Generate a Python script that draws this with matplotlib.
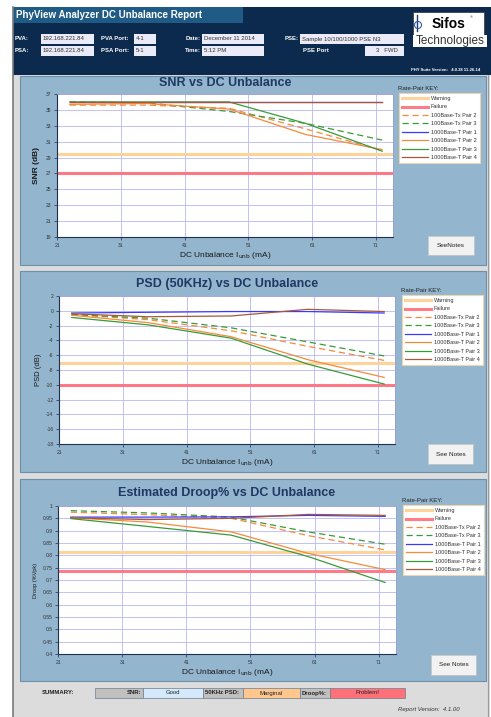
import matplotlib
matplotlib.use("Agg")
import matplotlib.pyplot as plt
from matplotlib.patches import Rectangle, Circle

plt.rcParams['font.family'] = ['Liberation Sans', 'DejaVu Sans']

W, H = 491, 717

# ---------------- data ----------------
x_unb = [23, 35, 48, 60, 72]
xticks = [21, 31, 41, 51, 61, 71]

series_labels = ["100Base-Tx Pair 2", "100Base-Tx Pair 3", "1000Base-T Pair 1",
                 "1000Base-T Pair 2", "1000Base-T Pair 3", "1000Base-T Pair 4"]

snr_tx2 = [35.6, 35.6, 35.2, 32.6, 29.9]
snr_tx3 = [36.0, 35.9, 34.8, 33.3, 31.2]
snr_t1 = [36.0, 36.0, 36.0, 36.0, 36.0]
snr_t2 = [35.7, 35.8, 35.1, 31.9, 30.0]
snr_t3 = [36.0, 36.0, 36.0, 33.3, 29.8]
snr_t4 = [36.0, 36.0, 36.0, 36.0, 36.0]
snr_warn, snr_fail = 29.5, 27.0
snr_yticks = [19, 21, 23, 25, 27, 29, 31, 33, 35, 37]

psd_tx2 = [-0.5, -1.2, -2.7, -4.8, -6.7]
psd_tx3 = [-0.5, -1.0, -2.3, -4.2, -6.1]
psd_t1 = [-0.3, -0.2, -0.1, -0.1, -0.3]
psd_t2 = [-0.6, -1.6, -3.5, -6.6, -9.0]
psd_t3 = [-0.9, -1.9, -3.7, -7.2, -9.9]
psd_t4 = [-0.4, -0.8, -0.7, 0.2, -0.1]
psd_warn, psd_fail = -7.0, -10.0
psd_yticks = [-18, -16, -14, -12, -10, -8, -6, -4, -2, 0, 2]

droop_tx2 = [0.975, 0.965, 0.950, 0.880, 0.822]
droop_tx3 = [0.981, 0.972, 0.955, 0.895, 0.845]
droop_t1 = [0.955, 0.955, 0.956, 0.962, 0.958]
droop_t2 = [0.952, 0.935, 0.895, 0.808, 0.742]
droop_t3 = [0.949, 0.917, 0.882, 0.795, 0.690]
droop_t4 = [0.952, 0.945, 0.950, 0.966, 0.962]
droop_warn, droop_fail = 0.813, 0.735
droop_yticks = [0.4, 0.45, 0.5, 0.55, 0.6, 0.65, 0.7, 0.75, 0.8, 0.85, 0.9, 0.95, 1.0]

summary_labels = ["SNR:", "50KHz PSD:", "Droop%:"]
summary_values = ["Good", "Marginal", "Problem!"]

# ---------------- styles ----------------
C_ORANGE = '#f58a3a'
C_GREEN = '#3a9a3a'
C_BLUE = '#3a3aff'
C_BROWN = '#a8583a'
C_WARN = '#fdd39a'
C_FAIL = '#ff6e7a'
series_styles = [(C_ORANGE, '--'), (C_GREEN, '--'), (C_BLUE, '-'),
                 (C_ORANGE, '-'), (C_GREEN, '-'), (C_BROWN, '-')]

NAVY = '#0c2a4e'
PANEL = '#93b5cd'
TITLE_C = '#1f3864'

fig = plt.figure(figsize=(W / 100, H / 100), dpi=100)
fig.patch.set_facecolor('white')

bg = fig.add_axes([0, 0, 1, 1], zorder=-10)
bg.set_xlim(0, W)
bg.set_ylim(H, 0)
bg.axis('off')


def rect(x0, y0, x1, y1, fc, ec='none', lw=0.6, z=1):
    bg.add_patch(Rectangle((x0, y0), x1 - x0, y1 - y0, facecolor=fc,
                           edgecolor=ec, linewidth=lw, zorder=z))


def txt(x, y, s, size=4.5, color='black', ha='left', va='center', **kw):
    bg.text(x, y, s, fontsize=size, color=color, ha=ha, va=va, zorder=5, **kw)


# outer report background
rect(13, 7, 490, 717, '#dcdcdc')
bg.plot([13, 13], [7, 717], color='#7a7a7a', lw=1.2, zorder=2)
bg.plot([488.5, 488.5], [75, 717], color='#9a9a9a', lw=0.8, zorder=2)

# header
rect(13, 7, 491, 75, NAVY)
rect(13, 7, 243, 23, '#1f5b85')
txt(16, 15, "PhyView Analyzer DC Unbalance Report", size=7, color='white',
    weight='bold')

box_fc = '#eaeaf8'
lab_kw = dict(size=4.3, color='white', weight='bold')
val_kw = dict(size=4.3, color='#333333')
# row 1
txt(15, 39, "PVA:", **lab_kw)
rect(41, 34, 94, 44, box_fc); txt(43, 39, "192.168.221.84", **val_kw)
txt(101, 39, "PVA Port:", **lab_kw)
rect(134, 34, 156, 44, box_fc); txt(136, 39, "4-1", **val_kw)
txt(201, 39, "Date:", ha='right', **lab_kw)
rect(202, 34, 264, 44, box_fc); txt(204, 39, "December 11 2014", **val_kw)
txt(299, 39, "PSE:", ha='right', **lab_kw)
rect(300, 34, 404, 44, box_fc); txt(302, 39, "Sample 10/100/1000 PSE N3", **val_kw)
# row 2
txt(15, 51, "PSA:", **lab_kw)
rect(41, 46, 94, 56, box_fc); txt(43, 51, "192.168.221.84", **val_kw)
txt(101, 51, "PSA Port:", **lab_kw)
rect(134, 46, 156, 56, box_fc); txt(136, 51, "5-1", **val_kw)
txt(201, 51, "Time:", ha='right', **lab_kw)
rect(202, 46, 264, 56, box_fc); txt(204, 51, "5:12 PM", **val_kw)
txt(303, 51, "PSE Port", **lab_kw)
rect(365, 46, 404, 56, box_fc); txt(376, 51, "3   FWD", **val_kw)
txt(480, 70, "PHY Suite Version:   4.0.38 11-26-14", size=3, color='white',
    ha='right', weight='bold')

# logo
rect(413, 12, 484, 35, 'white', ec='#333333', lw=0.5)
rect(413, 35, 487, 47, 'white')
bg.plot([417.5, 417.5], [15, 31], color='#1f3864', lw=1.0, zorder=6)
bg.add_patch(Circle((418, 25), 3.5, facecolor='none',
                    edgecolor='#2f5fb0', lw=0.8, zorder=6))
txt(449, 24, "Sifos", size=10, color='black', ha='center', weight='bold')
txt(471, 17, "®", size=3, color='#444444', ha='center')
txt(450, 41, "Technologies", size=8.5, color='#333333', ha='center')

# panels
panels = [(76, 265), (271, 472), (479, 681)]
for (y0, y1) in panels:
    rect(20, y0, 486, y1, PANEL, ec='#6d90aa', lw=0.8)


def px_axes(x0, y0, x1, y1):
    return fig.add_axes([x0 / W, 1 - y1 / H, (x1 - x0) / W, (y1 - y0) / H])


def make_chart(box, title, title_y, ylabel, ylabel_kw, yticks, ytickfmt,
               warn, fail, data, legend_xy, button, btn_text):
    ax = px_axes(*box)
    ax.set_facecolor('white')
    ax.axhline(warn, color=C_WARN, lw=2.2, zorder=2, label="Warning")
    ax.axhline(fail, color=C_FAIL, lw=2.2, alpha=0.9, zorder=2, label="Failure")
    handles = ax.get_lines()[:]
    for vals, lab, (c, ls) in zip(data, series_labels, series_styles):
        ln, = ax.plot(x_unb, vals, color=c, ls=ls, lw=0.9, zorder=3, label=lab,
                      dashes=(5, 3) if ls == '--' else (None, None))
        handles.append(ln)
    ax.set_xlim(21, 73.7)
    ax.set_ylim(yticks[0], yticks[-1])
    ax.set_xticks(xticks)
    ax.set_yticks(yticks)
    ax.set_yticklabels([ytickfmt(v) for v in yticks])
    ax.grid(True, color='#b8b8f4', lw=0.6)
    ax.set_axisbelow(True)
    ax.tick_params(labelsize=3.6, labelcolor='#333333', length=2, width=0.5,
                   color='#1f3050', pad=2)
    for s in ['left', 'bottom']:
        ax.spines[s].set_color('#1f3050')
        ax.spines[s].set_linewidth(0.8)
    for s in ['top', 'right']:
        ax.spines[s].set_color('#9a9ad8')
        ax.spines[s].set_linewidth(0.5)
    ax.set_xlabel(r"DC Unbalance I$_{\mathrm{unb}}$ (mA)", fontsize=6,
                  color='#1a1a1a', labelpad=1.5)
    ax.set_ylabel(ylabel, **ylabel_kw)
    cx = (box[0] + box[2]) / 2
    txt(cx, title_y, title, size=9, color=TITLE_C, ha='center', weight='bold')
    # legend
    lx, ly = legend_xy
    txt(lx - 1, ly - 5, "Rate-Pair KEY:", size=4.3, color='#222222')
    leg = ax.legend(handles=handles, loc='upper left',
                    bbox_to_anchor=(lx / W, 1 - ly / H),
                    bbox_transform=fig.transFigure, fontsize=4.0,
                    frameon=True, fancybox=False, edgecolor='#edd5ae',
                    facecolor='white', framealpha=1, handlelength=4.6,
                    handletextpad=0.6, labelspacing=0.62, borderpad=0.55,
                    borderaxespad=0)
    leg.get_frame().set_linewidth(0.8)
    for t in leg.get_texts():
        t.set_color('#333333')
    # button
    bx0, by0, bx1, by1 = button
    rect(bx0 + 1, by0 + 1, bx1 + 1, by1 + 1, '#6d8aa0', z=3)
    rect(bx0, by0, bx1, by1, '#f2f2f2', ec='#c8c8c8', lw=0.5, z=4)
    txt((bx0 + bx1) / 2, (by0 + by1) / 2, btn_text, size=4.6, color='#222222',
        ha='center')
    return ax


make_chart((57, 94, 393, 237), "SNR vs DC Unbalance", 83, "SNR (dB)",
           dict(fontsize=6, weight='bold', color='#1a1a1a', labelpad=4),
           snr_yticks, lambda v: f"{v:g}", snr_warn, snr_fail,
           [snr_tx2, snr_tx3, snr_t1, snr_t2, snr_t3, snr_t4],
           (399, 93), (428, 236, 474, 255), "SeeNotes")

make_chart((59, 296, 395, 444), "PSD (50KHz) vs DC Unbalance", 284, "PSD (dB)",
           dict(fontsize=5.5, color='#1a1a1a', labelpad=3),
           psd_yticks, lambda v: f"{v:g}", psd_warn, psd_fail,
           [psd_tx2, psd_tx3, psd_t1, psd_t2, psd_t3, psd_t4],
           (402, 295), (428, 444, 473, 464), "See Notes")

make_chart((58, 506, 396, 654), "Estimated Droop% vs DC Unbalance", 493,
           "Droop (%Vpk)", dict(fontsize=4, color='#1a1a1a', labelpad=3),
           droop_yticks, lambda v: f"{v:g}", droop_warn, droop_fail,
           [droop_tx2, droop_tx3, droop_t1, droop_t2, droop_t3, droop_t4],
           (403, 505), (431, 655, 476, 675), "See Notes")

# summary row
txt(42, 693, "SUMMARY:", size=4.3, color='#222222', weight='bold')
cells = [(95, 143, '#c0c0c0', summary_labels[0], 'right'),
         (143, 203, '#d4eafc', summary_values[0], 'center'),
         (203, 243, '#c0c0c0', summary_labels[1], 'left'),
         (243, 300, '#ffc78e', summary_values[1], 'center'),
         (300, 330, '#c0c0c0', summary_labels[2], 'left'),
         (330, 405, '#ff7078', summary_values[2], 'center')]
for x0, x1, fc, s, al in cells:
    rect(x0, 688, x1, 698, fc, ec='#6d7d8d', lw=0.5)
    if al == 'right':
        txt(x1 - 2, 693, s, size=4.3, color='#222222', ha='right', weight='bold')
    elif al == 'left':
        txt(x0 + 2, 693, s, size=4.3, color='#222222', ha='left', weight='bold')
    else:
        txt((x0 + x1) / 2, 693, s, size=4.3, color='#222222', ha='center')
txt(460, 710, "Report Version:  4.1.00", size=4.3, color='#333333', ha='right',
    style='italic')

fig.savefig("out.png", dpi=100, facecolor=fig.get_facecolor())
